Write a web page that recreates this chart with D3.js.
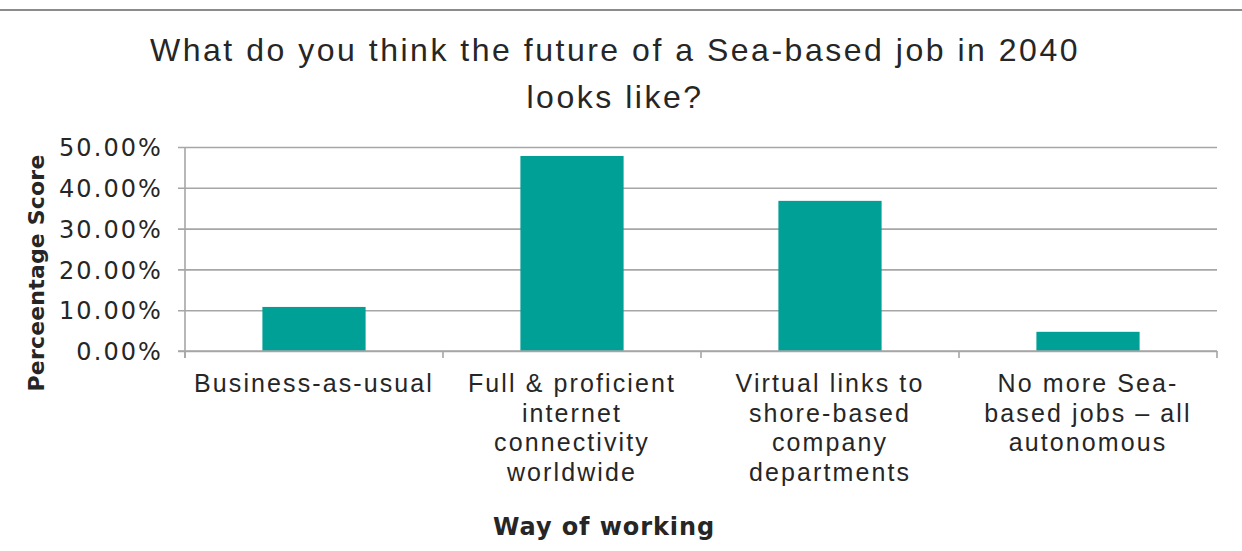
<!DOCTYPE html>
<html>
<head>
<meta charset="utf-8">
<script src="https://cdn.jsdelivr.net/npm/d3@7"></script>
<style>
  html, body { margin: 0; padding: 0; background: #fff; }
  svg { display: block; }
  text { fill: #262626; }
</style>
</head>
<body>
<svg id="chart" width="1242" height="551"></svg>
<script>
// Survey responses: share of respondents per way of working
const categories = [
  ["Business-as-usual"],
  ["Full & proficient", "internet", "connectivity", "worldwide"],
  ["Virtual links to", "shore-based", "company", "departments"],
  ["No more Sea-", "based jobs \u2013 all", "autonomous"]
];
const scores = [0.108, 0.478, 0.368, 0.047];
const yTicks = [0, 0.1, 0.2, 0.3, 0.4, 0.5];
const titleLines = ["What do you think the future of a Sea-based job in 2040", "looks like?"];
const yTitle = "Perceentage Score";
const xTitle = "Way of working";

const W = 1242, H = 551;
const margin = { left: 185, right: 25, top: 147, bottom: 200 };
const svg = d3.select("#chart");

// spread a text's letters so that it spans the given width
function spacingFor(sample, font, size, weight, width) {
  const t = svg.append("text").attr("font-family", font).attr("font-size", size)
    .attr("font-weight", weight).text(sample);
  const len = t.node().getComputedTextLength();
  t.remove();
  return Math.max(0, (width - len) / sample.length);
}

// thin rule along the top edge
svg.append("line")
  .attr("x1", 0).attr("x2", W).attr("y1", 10).attr("y2", 10)
  .attr("stroke", "#8c8c8c").attr("stroke-width", 2);

const x = d3.scaleBand()
  .domain(d3.range(categories.length))
  .range([margin.left, W - margin.right])
  .paddingInner(0.6).paddingOuter(0.3);

const y = d3.scaleLinear().domain([0, 0.5]).range([351, margin.top]);

const textFont = "'Liberation Sans', Arial, sans-serif";
const tickFont = "'DejaVu Sans', sans-serif";

// gridlines + y axis labels
const tickLS = spacingFor("50.00%", tickFont, 24, "normal", 104);
const yAxis = svg.append("g")
  .attr("transform", `translate(${margin.left},0)`)
  .call(d3.axisLeft(y).tickValues(yTicks).tickFormat(d3.format(".2%"))
    .tickSize(-(W - margin.right - margin.left)).tickSizeOuter(0).tickPadding(22));
yAxis.select(".domain").remove();
yAxis.selectAll(".tick line").attr("stroke", "#a6a6a6").attr("stroke-width", 1.6).attr("x1", -7);
yAxis.selectAll(".tick text")
  .attr("font-family", tickFont).attr("font-size", 24).attr("letter-spacing", tickLS)
  .attr("dy", "0.36em").style("fill", "#262626");

// bars
svg.append("g").selectAll("rect")
  .data(scores)
  .join("rect")
  .attr("x", (d, i) => x(i))
  .attr("width", x.bandwidth())
  .attr("y", d => y(d))
  .attr("height", d => y(0) - y(d))
  .attr("fill", "#00A096");

// vertical axis line
svg.append("line")
  .attr("x1", margin.left).attr("x2", margin.left)
  .attr("y1", y(0.5)).attr("y2", y(0) + 7)
  .attr("stroke", "#a6a6a6").attr("stroke-width", 1.6);

// x axis: baseline and ticks between categories
const bounds = d3.range(categories.length + 1).map(i => margin.left + i * (W - margin.right - margin.left) / categories.length);
svg.append("line")
  .attr("x1", margin.left - 7).attr("x2", W - margin.right)
  .attr("y1", y(0)).attr("y2", y(0))
  .attr("stroke", "#a6a6a6").attr("stroke-width", 1.6);
svg.append("g").selectAll("line")
  .data(bounds)
  .join("line")
  .attr("x1", d => d).attr("x2", d => d)
  .attr("y1", y(0)).attr("y2", y(0) + 7)
  .attr("stroke", "#a6a6a6").attr("stroke-width", 1.6);

// category labels
const catLS = spacingFor(categories[0][0], textFont, 25, "normal", 240);
const cat = svg.append("g").selectAll("text")
  .data(categories)
  .join("text")
  .attr("x", (d, i) => x(i) + x.bandwidth() / 2)
  .attr("y", 392)
  .attr("text-anchor", "middle")
  .attr("font-family", textFont).attr("font-size", 25).attr("letter-spacing", catLS);
cat.selectAll("tspan")
  .data(d => d)
  .join("tspan")
  .attr("x", function() { return this.parentNode.getAttribute("x"); })
  .attr("dy", (d, i) => i === 0 ? 0 : 29.5)
  .text(d => d);

// title
const titleLS = spacingFor(titleLines[0], textFont, 32, "normal", 930);
svg.append("g").selectAll("text")
  .data(titleLines)
  .join("text")
  .attr("x", 615)
  .attr("y", (d, i) => 61 + i * 47)
  .attr("text-anchor", "middle")
  .attr("font-family", textFont).attr("font-size", 32).attr("letter-spacing", titleLS)
  .text(d => d);

// axis titles
svg.append("text")
  .attr("transform", `translate(44,${273}) rotate(-90)`)
  .attr("text-anchor", "middle")
  .attr("font-family", tickFont).attr("font-weight", "bold").attr("font-size", 22)
  .attr("letter-spacing", spacingFor(yTitle, tickFont, 22, "bold", 237))
  .text(yTitle);

svg.append("text")
  .attr("x", 604).attr("y", 535)
  .attr("text-anchor", "middle")
  .attr("font-family", tickFont).attr("font-weight", "bold").attr("font-size", 24)
  .attr("letter-spacing", spacingFor(xTitle, tickFont, 24, "bold", 222))
  .text(xTitle);
</script>
</body>
</html>
